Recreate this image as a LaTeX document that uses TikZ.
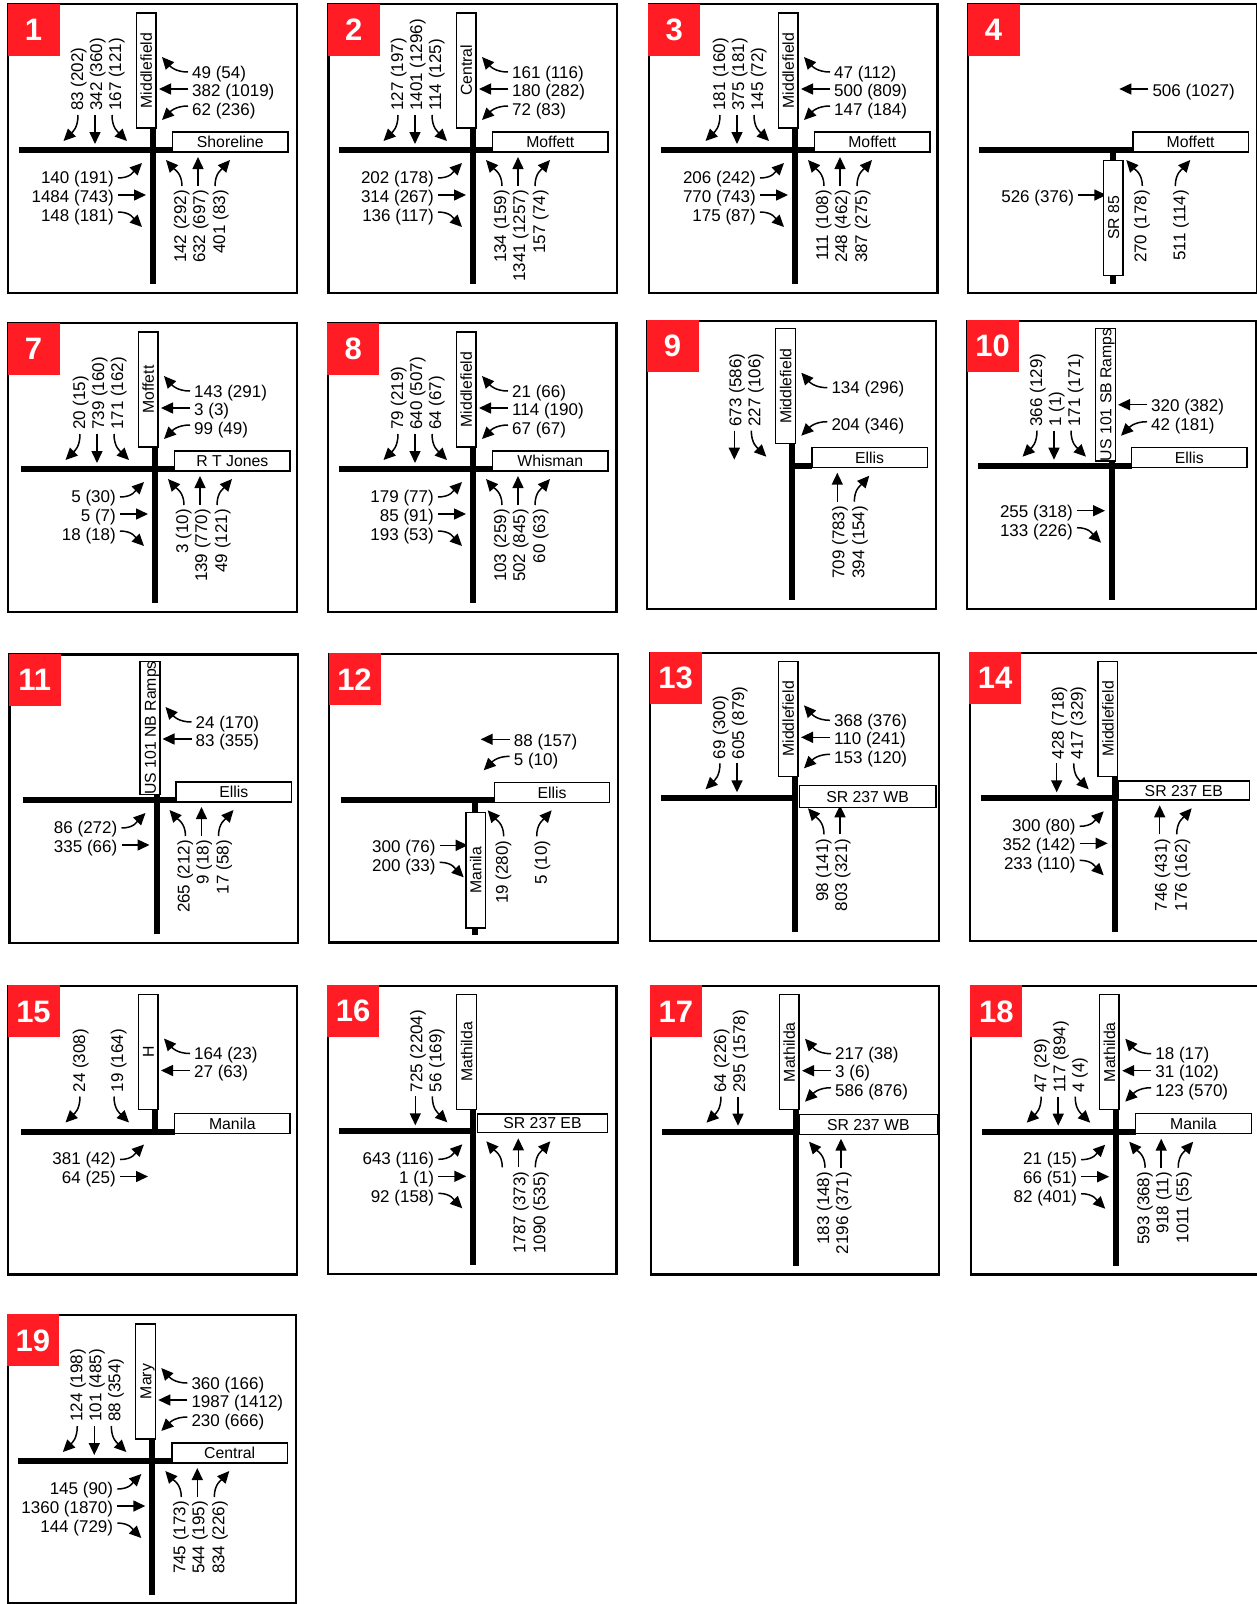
\documentclass[tikz,border=0pt]{standalone}
\usepackage{fontspec}
\setmainfont{Liberation Sans}
\usetikzlibrary{arrows.meta}
\definecolor{tagred}{RGB}{255,28,36}

\newcommand{\flowfont}{\fontsize{17}{20}\selectfont}
\newcommand{\streetfont}{\fontsize{15.8}{18}\selectfont}
\newcommand{\tagfont}{\fontsize{31}{34}\selectfont\bfseries}

\tikzset{
  road/.style={line width=6pt},
  framebox/.style={line width=2.2pt},
  paneltag/.style={fill=tagred,text=white,font=\tagfont,inner sep=0pt,minimum size=52pt,text height=22pt,text depth=0pt},
  street/.style={draw,fill=white,line width=1.4pt,inner sep=0pt,font=\streetfont,text height=11.5pt,text depth=0pt},
  flowlabel/.style={font=\flowfont,inner xsep=4pt,inner ysep=0pt,text height=12.2pt,text depth=0pt},
  flowarrow/.style={line width=1.5pt,-{Triangle[length=12pt,width=11pt]}},
}

% frame and red tag of one panel: number, left, top
\newcommand{\panel}[3]{\def\pid{p#1}
  \draw[framebox] (#2,#3) rectangle +(288.5,288.5);
  \node[paneltag,anchor=north west] (\pid-tag) at (#2-1,#3-1) {#1};}
% roads: west end, east end, north end, south end
\newcommand{\road}[4]{\draw[road] (#1,0) -- (#2,0); \draw[road] (0,#3) -- (0,#4);}

% street boxes: text, long side, short side, centre
\newcommand{\streetH}[5]{\node[street,minimum width=#2pt,minimum height=#3pt] (\pid-h) at (#4,#5) {#1};}
\newcommand{\streetV}[5]{\node[street,rotate=90,minimum width=#2pt,minimum height=#3pt] (\pid-v) at (#4,#5) {#1};}
\newcommand{\stdH}[1]{\streetH{#1}{115.5}{20}{77.3}{-8}}
\newcommand{\stdV}[1]{\streetV{#1}{115}{19.5}{-6.8}{-79.5}}

% north approach
\newcommand{\northL}[1]{\node[flowlabel,rotate=90,anchor=west] (\pid-nL) at (-76,-35) {#1};
  \coordinate (\pid-nLe) at (-89.5,-9);
  \draw[flowarrow] ([xshift=1pt]\pid-nL.west) .. controls +(0,13) and +(9,-9) .. (\pid-nLe);}
\newcommand{\northT}[1]{\node[flowlabel,rotate=90,anchor=west] (\pid-nT) at (-57,-35) {#1};
  \coordinate (\pid-nTe) at (-58,-6);
  \draw[flowarrow] ([xshift=-1pt]\pid-nT.west) -- (\pid-nTe);}
\newcommand{\northR}[1]{\node[flowlabel,rotate=90,anchor=west] (\pid-nR) at (-38,-35) {#1};
  \coordinate (\pid-nRe) at (-26,-9);
  \draw[flowarrow] ([xshift=-3pt]\pid-nR.west) .. controls +(0,13) and +(-9,-9) .. (\pid-nRe);}
% east approach
\newcommand{\eastL}[1]{\node[flowlabel,anchor=west] (\pid-eL) at (35,-78) {#1};
  \coordinate (\pid-eLe) at (9,-93);
  \draw[flowarrow] (\pid-eL.west) .. controls +(-13,0) and +(8,9) .. (\pid-eLe);}
\newcommand{\eastT}[1]{\node[flowlabel,anchor=west] (\pid-eT) at (35,-60) {#1};
  \coordinate (\pid-eTe) at (6,-61);
  \draw[flowarrow] ([yshift=1pt]\pid-eT.west) -- (\pid-eTe);}
\newcommand{\eastR}[1]{\node[flowlabel,anchor=west] (\pid-eR) at (35,-41) {#1};
  \coordinate (\pid-eRe) at (9,-30);
  \draw[flowarrow] ([yshift=3pt]\pid-eR.west) .. controls +(-13,0) and +(8,-8) .. (\pid-eRe);}
% west approach
\newcommand{\westL}[1]{\node[flowlabel,anchor=east] (\pid-wL) at (-35,27) {#1};
  \coordinate (\pid-wLe) at (-11,13);
  \draw[flowarrow] ([yshift=-1pt]\pid-wL.east) .. controls +(13,0) and +(-8,8) .. (\pid-wLe);}
\newcommand{\westT}[1]{\node[flowlabel,anchor=east] (\pid-wT) at (-35,46) {#1};
  \coordinate (\pid-wTe) at (-7,45);
  \draw[flowarrow] ([yshift=1pt]\pid-wT.east) -- (\pid-wTe);}
\newcommand{\westR}[1]{\node[flowlabel,anchor=east] (\pid-wR) at (-35,65) {#1};
  \coordinate (\pid-wRe) at (-11,77);
  \draw[flowarrow] ([yshift=3pt]\pid-wR.east) .. controls +(13,0) and +(-8,-8) .. (\pid-wRe);}
% south approach
\newcommand{\southL}[1]{\node[flowlabel,rotate=90,anchor=east] (\pid-sL) at (27,36) {#1};
  \coordinate (\pid-sLe) at (13,10);
  \draw[flowarrow] ([xshift=2pt]\pid-sL.east) .. controls +(0,-13) and +(8,9) .. (\pid-sLe);}
\newcommand{\southT}[1]{\node[flowlabel,rotate=90,anchor=east] (\pid-sT) at (46,36) {#1};
  \coordinate (\pid-sTe) at (45,7);
  \draw[flowarrow] ([xshift=-1pt]\pid-sT.east) -- (\pid-sTe);}
\newcommand{\southR}[1]{\node[flowlabel,rotate=90,anchor=east] (\pid-sR) at (66,36) {#1};
  \coordinate (\pid-sRe) at (77,10);
  \draw[flowarrow] ([xshift=-4pt]\pid-sR.east) .. controls +(0,-13) and +(-8,9) .. (\pid-sRe);}

\begin{document}
\begin{tikzpicture}[x=1pt,y=-1pt]
  \useasboundingbox (0,0) rectangle (1256,1604);

  % Panel 1
  \panel{1}{8.3}{4.3}
  \begin{scope}[shift={(153,150)}]
    \road{-134}{20}{-22}{134}
    \northL{83 (202)} \northT{342 (360)} \northR{167 (121)}
    \eastL{49 (54)} \eastT{382 (1019)} \eastR{62 (236)}
    \westL{140 (191)} \westT{1484 (743)} \westR{148 (181)}
    \southL{142 (292)} \southT{632 (697)} \southR{401 (83)}
    \stdV{Middlefield} \stdH{Shoreline}
  \end{scope}

  % Panel 2
  \panel{2}{328.5}{4.3}
  \begin{scope}[shift={(473,150)}]
    \road{-134}{20}{-22}{134}
    \northL{127 (197)} \northT{1401 (1296)} \northR{114 (125)}
    \eastL{161 (116)} \eastT{180 (282)} \eastR{72 (83)}
    \westL{202 (178)} \westT{314 (267)} \westR{136 (117)}
    \southL{134 (159)} \southT{1341 (1257)} \southR{157 (74)}
    \stdV{Central} \stdH{Moffett}
  \end{scope}

  % Panel 3
  \panel{3}{649}{4.3}
  \begin{scope}[shift={(795,150)}]
    \road{-134}{20}{-22}{134}
    \northL{181 (160)} \northT{375 (181)} \northR{145 (72)}
    \eastL{47 (112)} \eastT{500 (809)} \eastR{147 (184)}
    \westL{206 (242)} \westT{770 (743)} \westR{175 (87)}
    \southL{111 (108)} \southT{248 (462)} \southR{387 (275)}
    \stdV{Middlefield} \stdH{Moffett}
  \end{scope}

  % Panel 4
  \panel{4}{968.3}{4.3}
  \begin{scope}[shift={(1113.3,150)}]
    \road{-134}{20}{0}{134}
    \eastT{506 (1027)}
    \westT{526 (376)}
    \southL{270 (178)} \southR{511 (114)}
    \streetV{SR 85}{115.5}{19.5}{0}{68} \stdH{Moffett}
  \end{scope}

  % Panel 7
  \panel{7}{8.3}{323.3}
  \begin{scope}[shift={(155,469)}]
    \road{-134}{20}{-22}{134}
    \northL{20 (15)} \northT{739 (160)} \northR{171 (162)}
    \eastL{143 (291)} \eastT{3 (3)} \eastR{99 (49)}
    \westL{5 (30)} \westT{5 (7)} \westR{18 (18)}
    \southL{3 (10)} \southT{139 (770)} \southR{49 (121)}
    \stdV{Moffett} \stdH{R T Jones}
  \end{scope}

  % Panel 8
  \panel{8}{328}{323.3}
  \begin{scope}[shift={(473,469)}]
    \road{-134}{20}{-22}{134}
    \northL{79 (219)} \northT{640 (507)} \northR{64 (67)}
    \eastL{21 (66)} \eastT{114 (190)} \eastR{67 (67)}
    \westL{179 (77)} \westT{85 (91)} \westR{193 (53)}
    \southL{103 (259)} \southT{502 (845)} \southR{60 (63)}
    \stdV{Middlefield} \stdH{Whisman}
  \end{scope}

  % Panel 9
  \panel{9}{647.3}{320.7}
  \begin{scope}[shift={(792.3,465.7)}]
    \road{0}{20}{-22}{134}
    \northT{673 (586)} \northR{227 (106)}
    \eastL{134 (296)} \eastR{204 (346)}
    \southT{709 (783)} \southR{394 (154)}
    \stdV{Middlefield} \stdH{Ellis}
  \end{scope}

  % Panel 10
  \panel{10}{967.3}{320.7}
  \begin{scope}[shift={(1112,465.7)}]
    \road{-134}{20}{-5}{134}
    \northL{366 (129)} \northT{1 (1)} \northR{171 (171)}
    \eastT{320 (382)} \eastR{42 (181)}
    \westT{255 (318)} \westR{133 (226)}
    \streetV{US 101 SB Ramps}{132}{20}{-6.5}{-71} \stdH{Ellis}
  \end{scope}

  % Panel 11
  \panel{11}{9.5}{654.5}
  \begin{scope}[shift={(156.5,800)}]
    \road{-134}{20}{-5}{134}
    \eastL{24 (170)} \eastT{83 (355)}
    \westL{86 (272)} \westT{335 (66)}
    \southL{265 (212)} \southT{9 (18)} \southR{17 (58)}
    \streetV{US 101 NB Ramps}{132}{20}{-6.5}{-72} \stdH{Ellis}
  \end{scope}

  % Panel 12
  \panel{12}{329.3}{654}
  \begin{scope}[shift={(474.7,800.3)}]
    \road{-134}{20}{0}{134.7}
    \eastT{88 (157)} \eastR{5 (10)}
    \westT{300 (76)} \westR{200 (33)}
    \southL{19 (280)} \southR{5 (10)}
    \streetV{Manila}{115.5}{19.5}{1}{70} \stdH{Ellis}
  \end{scope}

  % Panel 13
  \panel{13}{650.3}{652.7}
  \begin{scope}[shift={(795,798.3)}]
    \road{-134}{0}{-22}{134}
    \northL{69 (300)} \northT{605 (879)}
    \eastL{368 (376)} \eastT{110 (241)} \eastR{153 (120)}
    \southL{98 (141)} \southT{803 (321)}
    \stdV{Middlefield} \streetH{SR 237 WB}{136.7}{22}{72.6}{-1.6}
  \end{scope}

  % Panel 14
  \panel{14}{970}{652.7}
  \begin{scope}[shift={(1114.7,798.3)}]
    \road{-134}{0}{-22}{134}
    \northT{428 (718)} \northR{417 (329)}
    \westL{300 (80)} \westT{352 (142)} \westR{233 (110)}
    \southT{746 (431)} \southR{176 (162)}
    \stdV{Middlefield} \streetH{SR 237 EB}{131}{19}{69.1}{-7.8}
  \end{scope}

  % Panel 15
  \panel{15}{8.3}{986}
  \begin{scope}[shift={(155,1131.5)}]
    \road{-134}{20}{-22}{3}
    \northL{24 (308)} \northR{19 (164)}
    \eastL{164 (23)} \eastT{27 (63)}
    \westL{381 (42)} \westT{64 (25)}
    \stdV{H} \stdH{Manila}
  \end{scope}

  % Panel 16
  \panel{16}{328}{985.7}
  \begin{scope}[shift={(473.3,1131.3)}]
    \road{-134}{0}{-22}{134}
    \northT{725 (2204)} \northR{56 (169)}
    \westL{643 (116)} \westT{1 (1)} \westR{92 (158)}
    \southL{} \southT{1787 (373)} \southR{1090 (535)}
    \stdV{Mathilda} \streetH{SR 237 EB}{130.3}{18.3}{69.2}{-8.2}
  \end{scope}

  % Panel 17
  \panel{17}{650.6}{986}
  \begin{scope}[shift={(796,1131.7)}]
    \road{-134}{0}{-22}{134}
    \northL{64 (226)} \northT{295 (1578)}
    \eastL{217 (38)} \eastT{3 (6)} \eastR{586 (876)}
    \southL{183 (148)} \southT{2196 (371)}
    \stdV{Mathilda} \streetH{SR 237 WB}{138.4}{20}{72.3}{-7.4}
  \end{scope}

  % Panel 18
  \panel{18}{971.2}{986}
  \begin{scope}[shift={(1116.2,1131.7)}]
    \road{-134}{20}{-22}{134}
    \northL{47 (29)} \northT{117 (894)} \northR{4 (4)}
    \eastL{18 (17)} \eastT{31 (102)} \eastR{123 (570)}
    \westL{21 (15)} \westT{66 (51)} \westR{82 (401)}
    \southL{593 (368)} \southT{918 (11)} \southR{1011 (55)}
    \stdV{Mathilda} \stdH{Manila}
  \end{scope}

  % Panel 19
  \panel{19}{7.7}{1315}
  \begin{scope}[shift={(152.3,1461)}]
    \road{-134}{20}{-22}{134}
    \northL{124 (198)} \northT{101 (485)} \northR{88 (354)}
    \eastL{360 (166)} \eastT{1987 (1412)} \eastR{230 (666)}
    \westL{145 (90)} \westT{1360 (1870)} \westR{144 (729)}
    \southL{745 (173)} \southT{544 (195)} \southR{834 (226)}
    \stdV{Mary} \stdH{Central}
  \end{scope}
\end{tikzpicture}
\end{document}
